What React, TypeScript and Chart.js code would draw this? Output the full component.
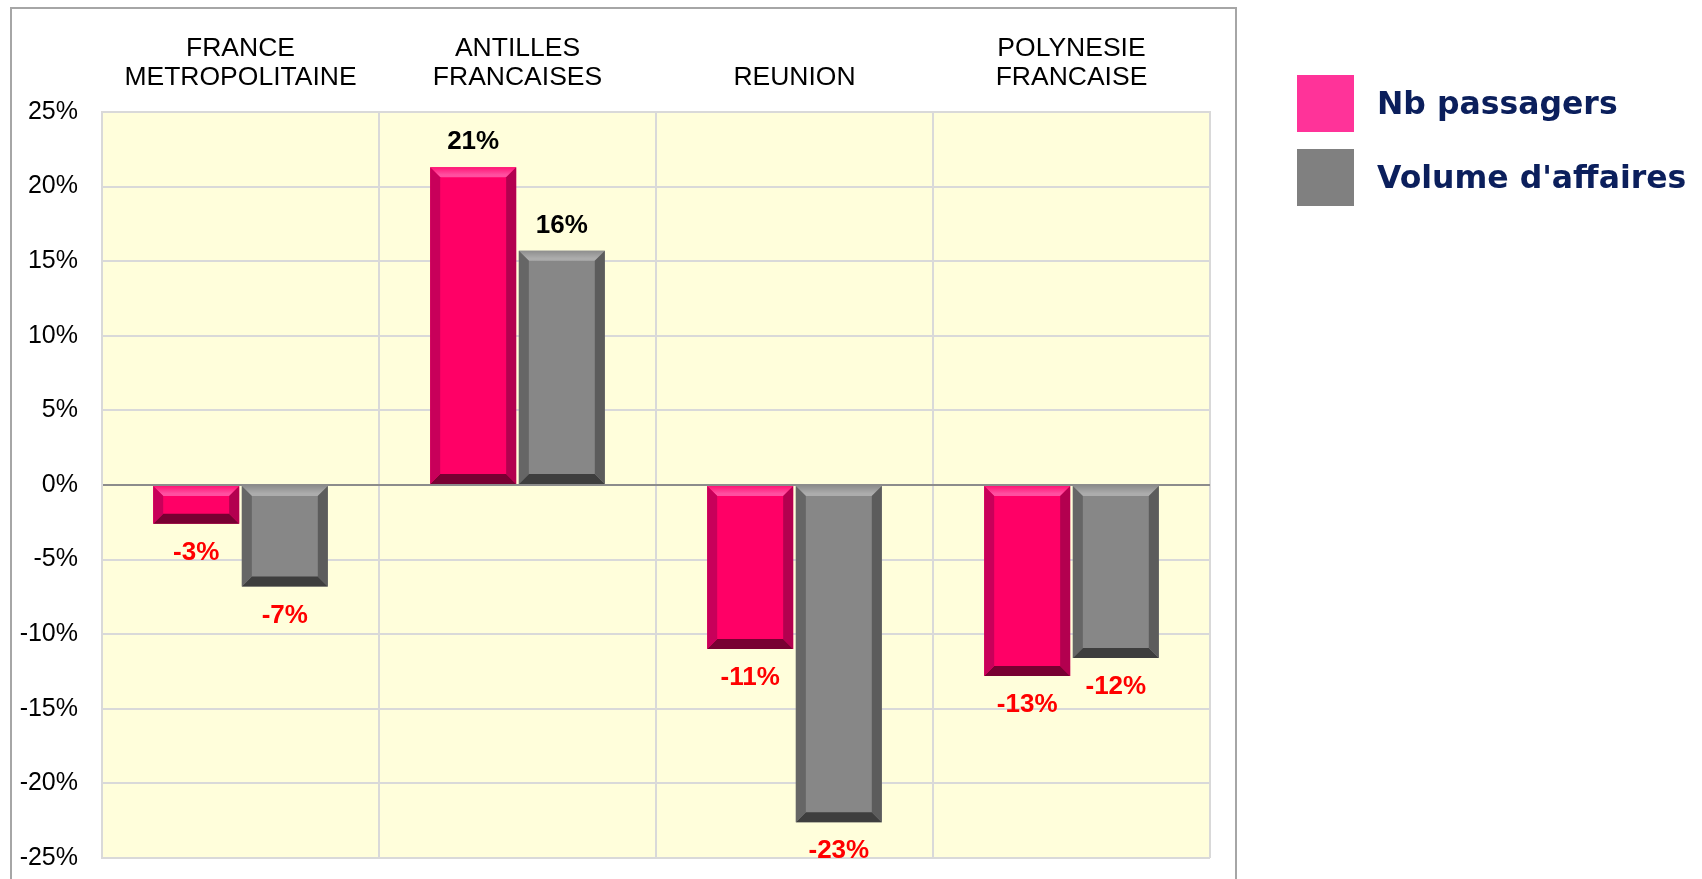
import React, { useEffect, useRef } from 'react';
import { Chart, registerables } from 'chart.js';

Chart.register(...registerables);

const categories: string[][] = [
  ['FRANCE', 'METROPOLITAINE'],
  ['ANTILLES', 'FRANCAISES'],
  ['REUNION'],
  ['POLYNESIE', 'FRANCAISE'],
];
const seriesNames = ['Nb passagers', "Volume d'affaires"];
const nbPassagers = [-2.6, 21.3, -11.0, -12.8];
const volumeAffaires = [-6.8, 15.7, -22.6, -11.6];
const yTicks = [-25, -20, -15, -10, -5, 0, 5, 10, 15, 20, 25];

const FONT = '"Liberation Sans", Arial, sans-serif';

const bevelColors = [
  { face: '#FF0066', topA: '#FF1475', topB: '#FF4FA0', left: '#C8005A', right: '#B3004F', bottom: '#780032', legend: '#FF3399' },
  { face: '#878787', topA: '#8E8E8E', topB: '#ACACAC', left: '#666666', right: '#5C5C5C', bottom: '#3E3E3E', legend: '#808080' },
];

function poly(ctx: CanvasRenderingContext2D, pts: number[][], fill: string | CanvasGradient) {
  ctx.beginPath();
  ctx.moveTo(pts[0][0], pts[0][1]);
  for (let i = 1; i < pts.length; i++) ctx.lineTo(pts[i][0], pts[i][1]);
  ctx.closePath();
  ctx.fillStyle = fill;
  ctx.fill();
}

const framePlugin = {
  id: 'framePlugin',
  beforeDraw(chart: any) {
    const { ctx, chartArea } = chart;
    ctx.save();
    ctx.fillStyle = '#FFFFFF';
    ctx.fillRect(0, 0, chart.width, chart.height);
    ctx.strokeStyle = '#A6A6A6';
    ctx.lineWidth = 2;
    ctx.strokeRect(11, 8, 1225, 1000);
    ctx.fillStyle = '#FFFEDB';
    ctx.fillRect(chartArea.left, chartArea.top, chartArea.right - chartArea.left, chartArea.bottom - chartArea.top);
    ctx.restore();
  },
};

const bevelPlugin = {
  id: 'bevelPlugin',
  afterDatasetsDraw(chart: any) {
    const { ctx } = chart;
    ctx.save();
    chart.data.datasets.forEach((ds: any, di: number) => {
      const meta = chart.getDatasetMeta(di);
      const c = bevelColors[di];
      meta.data.forEach((el: any, i: number) => {
        const p = el.getProps(['x', 'y', 'base', 'width'], true);
        const l = p.x - p.width / 2;
        const r = p.x + p.width / 2;
        const t = Math.min(p.y, p.base);
        const b = Math.max(p.y, p.base);
        const s = Math.min(10, (b - t) / 2, (r - l) / 2);
        const g = ctx.createLinearGradient(0, t, 0, t + s);
        g.addColorStop(0, c.topA);
        g.addColorStop(0.75, c.topB);
        g.addColorStop(1, c.topB);
        poly(ctx, [[l, t], [r, t], [r - s, t + s], [l + s, t + s]], g);
        poly(ctx, [[l, b], [r, b], [r - s, b - s], [l + s, b - s]], c.bottom);
        poly(ctx, [[l, t], [l + s, t + s], [l + s, b - s], [l, b]], c.left);
        poly(ctx, [[r, t], [r - s, t + s], [r - s, b - s], [r, b]], c.right);

        const v = ds.data[i] as number;
        const txt = (v < 0 ? '-' : '') + Math.round(Math.abs(v)) + '%';
        ctx.font = 'bold 26px ' + FONT;
        ctx.textAlign = 'center';
        ctx.textBaseline = 'middle';
        if (v >= 0) {
          ctx.fillStyle = '#000000';
          ctx.fillText(txt, p.x, p.y - 25);
        } else {
          ctx.fillStyle = '#FF0000';
          ctx.fillText(txt, p.x, p.y + 29);
        }
      });
    });
    ctx.restore();
  },
};

const legendPlugin = {
  id: 'legendPlugin',
  afterDraw(chart: any) {
    const { ctx } = chart;
    ctx.save();
    chart.data.datasets.forEach((ds: any, i: number) => {
      const top = 75 + i * 74;
      ctx.fillStyle = bevelColors[i].legend;
      ctx.fillRect(1297, top, 57, 57);
      ctx.fillStyle = '#0B1F5C';
      ctx.font = 'bold 31.5px "DejaVu Sans", Verdana, sans-serif';
      ctx.textAlign = 'left';
      ctx.textBaseline = 'middle';
      ctx.fillText(ds.label, 1377, top + 31);
    });
    ctx.restore();
  },
};

function ChartView() {
  const ref = useRef<HTMLCanvasElement>(null);
  useEffect(() => {
    const chart = new Chart(ref.current as HTMLCanvasElement, {
      type: 'bar',
      data: {
        labels: categories,
        datasets: [
          { label: seriesNames[0], data: nbPassagers, backgroundColor: bevelColors[0].face, borderWidth: 0 },
          { label: seriesNames[1], data: volumeAffaires, backgroundColor: bevelColors[1].face, borderWidth: 0 },
        ],
      },
      options: {
        responsive: false,
        animation: false,
        devicePixelRatio: 1,
        layout: { padding: { left: 0, top: 0, right: 492, bottom: 21 } },
        datasets: { bar: { categoryPercentage: 0.64, barPercentage: 0.97 } } as any,
        plugins: {
          legend: { display: false },
          tooltip: { enabled: false },
          title: { display: false },
        },
        scales: {
          x: {
            position: 'top',
            offset: true,
            grid: { offset: true, color: '#D9D9D9', lineWidth: 2, drawTicks: false },
            border: { display: true, color: '#D9D9D9', width: 2 },
            ticks: {
              color: '#000000',
              font: { family: FONT, size: 26.5, lineHeight: 29 / 26.5 },
              padding: 19.5,
              maxRotation: 0,
              autoSkip: false,
            },
            afterFit: (s: any) => { s.height = 112; s.paddingLeft = 0; s.paddingRight = 0; },
          } as any,
          y: {
            min: yTicks[0],
            max: yTicks[yTicks.length - 1],
            afterBuildTicks: (s: any) => { s.ticks = yTicks.map((v) => ({ value: v })); },
            grid: {
              color: (c: any) => (c.tick && c.tick.value === 0 ? '#8C8C8C' : '#D9D9D9'),
              lineWidth: 2,
              drawTicks: false,
            },
            border: { display: true, color: '#D9D9D9', width: 2 },
            ticks: {
              color: '#000000',
              font: { family: FONT, size: 25 },
              padding: 24,
              callback: (v: any) => v + '%',
            },
            afterFit: (s: any) => { s.width = 102; s.paddingTop = 0; s.paddingBottom = 0; },
          } as any,
        },
      },
      plugins: [framePlugin, bevelPlugin, legendPlugin],
    });
    return () => chart.destroy();
  }, []);
  return (
    <canvas ref={ref} width={1702} height={879} style={{ display: 'block', width: 1702, height: 879 }} />
  );
}

export default function App() {
  return (
    <div style={{ position: 'absolute', left: 0, top: 0, width: 1702, height: 879, background: '#fff' }}>
      <ChartView />
    </div>
  );
}
